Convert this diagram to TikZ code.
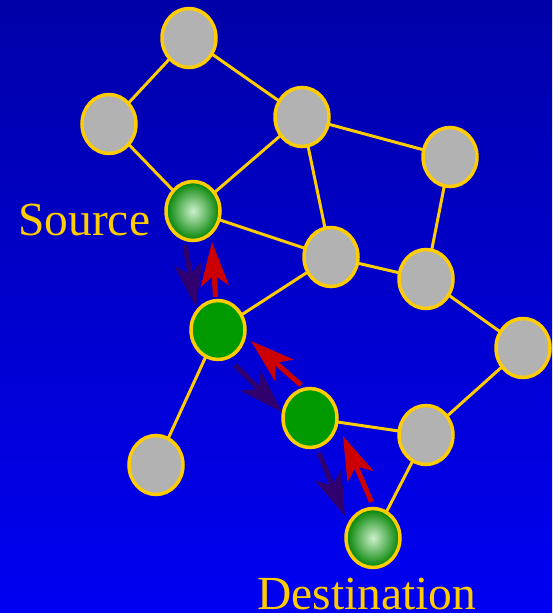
\documentclass[tikz,border=0pt]{standalone}
\usepackage{fontspec}
\setmainfont{Liberation Serif}
\usetikzlibrary{shapes.geometric,arrows.meta}
\definecolor{bgtop}{RGB}{0,0,168}
\definecolor{bgbot}{RGB}{0,0,242}
\definecolor{edgey}{RGB}{255,204,0}
\definecolor{nodegray}{RGB}{178,178,178}
\definecolor{nodegreen}{RGB}{0,153,0}
\definecolor{ballin}{RGB}{205,240,205}
\definecolor{ballout}{RGB}{0,130,0}
\definecolor{arrpurple}{RGB}{48,0,110}
\definecolor{arrred}{RGB}{204,0,0}
\tikzset{
  host/.style={ellipse, draw=edgey, line width=3.5pt, fill=nodegray, minimum width=54pt, minimum height=59pt, inner sep=0pt},
  hop/.style={host, fill=nodegreen},
  endpt/.style={host, inner color=ballin, outer color=ballout},
  link/.style={draw=edgey, line width=3pt},
  fwd/.style={draw=arrpurple, line width=5pt, -{Stealth[length=44pt,width=28pt,inset=11pt]}},
  back/.style={draw=arrred, line width=5pt, -{Stealth[length=44pt,width=28pt,inset=11pt]}},
  lbl/.style={text=edgey, font=\fontsize{47.5}{52}\selectfont, inner sep=0pt}
}
\begin{document}
\begin{tikzpicture}[x=1pt,y=-1pt]
\shade[top color=bgtop, bottom color=bgbot] (0,0) rectangle (552,613);
\useasboundingbox (0,0) rectangle (552,613);
% node positions
\coordinate (pA) at (189,38);
\coordinate (pB) at (109,124);
\coordinate (pC) at (302,117);
\coordinate (pD) at (450,157);
\coordinate (pS) at (193,211);
\coordinate (pE) at (331,257);
\coordinate (pF) at (426,279);
\coordinate (pG) at (218,330);
\coordinate (pH) at (523,348);
\coordinate (pI) at (310,418);
\coordinate (pJ) at (426,435);
\coordinate (pK) at (156,465);
\coordinate (pT) at (373,538);
% edges
\draw[link] (pA) -- (pB);
\draw[link] (pA) -- (pC);
\draw[link] (pB) -- (pS);
\draw[link] (pC) -- (pS);
\draw[link] (pC) -- (pE);
\draw[link] (pC) -- (pD);
\draw[link] (pD) -- (pF);
\draw[link] (pS) -- (pE);
\draw[link] (pE) -- (pF);
\draw[link] (pE) -- (pG);
\draw[link] (pF) -- (pH);
\draw[link] (pH) -- (pJ);
\draw[link] (pJ) -- (pI);
\draw[link] (pJ) -- (pT);
\draw[link] (pG) -- (pK);
% nodes
\node[host] (A) at (pA) {};
\node[host] (B) at (pB) {};
\node[host] (C) at (pC) {};
\node[host] (D) at (pD) {};
\node[endpt] (S) at (pS) {};
\node[host] (E) at (pE) {};
\node[host] (F) at (pF) {};
\node[hop] (G) at (pG) {};
\node[host] (H) at (pH) {};
\node[hop] (I) at (pI) {};
\node[host] (J) at (pJ) {};
\node[host] (K) at (pK) {};
\node[endpt] (T) at (pT) {};
% labels
\node[lbl, anchor=base west] (src) at (18,235) {Source};
\node[lbl, anchor=base west] (dst) at (257,609) {Destination};
% arrows
\coordinate (a1s) at (185,245); \coordinate (a1e) at (196,307);
\coordinate (a2s) at (215.5,297); \coordinate (a2e) at (212,242);
\coordinate (a3s) at (235,365); \coordinate (a3e) at (282,412);
\coordinate (a4s) at (301,385); \coordinate (a4e) at (251,341);
\coordinate (a5s) at (319,453); \coordinate (a5e) at (345,516);
\coordinate (a6s) at (371.5,502); \coordinate (a6e) at (343,436);
\draw[fwd] (a1s) -- (a1e);
\draw[back] (a2s) -- (a2e);
\draw[fwd] (a3s) -- (a3e);
\draw[back] (a4s) -- (a4e);
\draw[fwd] (a5s) -- (a5e);
\draw[back] (a6s) -- (a6e);
\end{tikzpicture}
\end{document}
